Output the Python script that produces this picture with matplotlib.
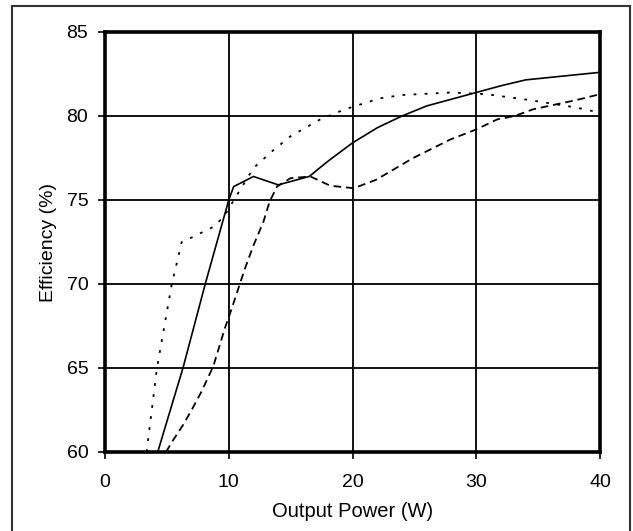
import matplotlib
matplotlib.use('Agg')
import matplotlib.pyplot as plt
from matplotlib.lines import Line2D

plt.rcParams['font.family'] = ['Liberation Sans', 'DejaVu Sans']
plt.rcParams['lines.scale_dashes'] = False

# solid curve
solid_w = [4.26, 6.3, 8.1, 10.0, 10.4, 12.0, 14.0, 16.5, 18.0, 20.0, 22.0, 24.0,
           26.0, 28.0, 30.0, 32.0, 34.0, 36.0, 38.0, 40.0]
solid_eff = [60.0, 65.0, 70.0, 75.0, 75.8, 76.4, 75.9, 76.4, 77.3, 78.4, 79.3, 80.0,
             80.6, 81.0, 81.4, 81.8, 82.15, 82.3, 82.45, 82.6]

# dotted curve
dot_w = [3.36, 4.2, 5.4, 6.2, 7.1, 8.75, 9.6, 10.5, 11.0, 12.0, 13.5, 15.0, 17.4,
         19.4, 22.2, 24.0, 28.0, 30.8, 34.3, 38.1, 40.0]
dot_eff = [60.0, 65.0, 70.0, 72.5, 72.8, 73.4, 74.0, 75.1, 75.7, 76.9, 77.9, 78.8, 79.8,
           80.4, 81.05, 81.25, 81.4, 81.3, 80.95, 80.5, 80.2]

# dashed curve
dash_w = [4.93, 5.5, 6.3, 7.0, 7.8, 8.75, 9.7, 10.2, 11.3, 12.0, 12.8, 13.3, 13.9,
          15.0, 16.6, 18.2, 20.1, 21.9, 24.9, 27.9, 30.0, 31.7, 33.1, 34.6, 36.5,
          38.1, 40.0]
dash_eff = [60.0, 60.7, 61.6, 62.5, 63.6, 65.1, 67.4, 68.45, 70.9, 72.3, 73.7, 74.9,
            75.8, 76.3, 76.4, 75.85, 75.7, 76.2, 77.5, 78.6, 79.2, 79.8, 80.0, 80.4,
            80.7, 80.95, 81.3]

x_ticks = [0, 10, 20, 30, 40]
y_ticks = [60, 65, 70, 75, 80, 85]

fig = plt.figure(figsize=(6.33, 5.31), dpi=100)
ax = fig.add_axes([105 / 633, 79 / 531, 495 / 633, 420 / 531])

ax.plot(solid_w, solid_eff, color='black', linewidth=1.2, linestyle='-')
ax.plot(dot_w, dot_eff, color='black', linewidth=1.3, dashes=(2.0, 6.0))
ax.plot(dash_w, dash_eff, color='black', linewidth=1.3, dashes=(5.5, 3.5))

ax.set_xlim(0, 40)
ax.set_ylim(60, 85)
ax.set_xticks(x_ticks)
ax.set_yticks(y_ticks)
ax.grid(True, color='black', linewidth=1.3)
ax.set_axisbelow(True)

for s in ax.spines.values():
    s.set_linewidth(2.6)
ax.tick_params(axis='both', direction='out', length=5, width=1.2,
               labelsize=14, colors='black')
ax.tick_params(axis='x', pad=11)
ax.tick_params(axis='y', pad=7)

ax.set_xlabel('Output Power (W)', fontsize=14.5, labelpad=8)
ax.set_ylabel('Efficiency (%)', fontsize=14, labelpad=7)

# outer frame around the chart
frame_kw = dict(color='#333333', linewidth=1.5, transform=fig.transFigure)
fig.add_artist(Line2D([12 / 633, 12 / 633], [0, 1 - 6 / 531], **frame_kw))
fig.add_artist(Line2D([12 / 633, 630 / 633], [1 - 6 / 531, 1 - 6 / 531], **frame_kw))
fig.add_artist(Line2D([630 / 633, 630 / 633], [0, 1 - 6 / 531], **frame_kw))

fig.savefig('out.png', dpi=100)
